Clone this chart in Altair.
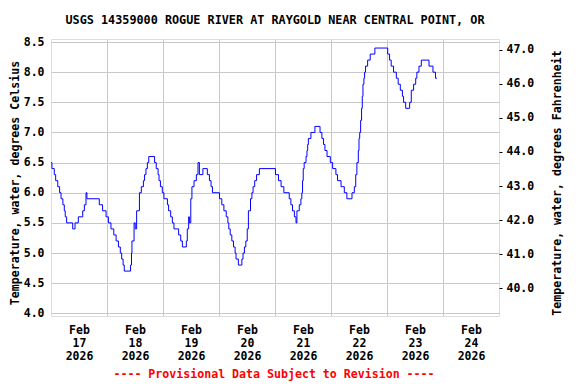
import altair as alt
import pandas as pd

# Water temperature (deg C), breakpoints: hours since 2026-02-17 00:00, value held until next point
hours = [0.0, 0.4, 1.4, 2.0, 2.9, 3.7, 4.3, 5.1, 5.7, 6.1, 6.7, 9.3, 10.3, 11.7, 13.6, 14.3, 15.0, 15.4,
         20.7, 22.1, 23.6, 24.6, 25.7, 26.9, 27.9, 28.9, 29.7, 30.3, 30.9, 31.4,
         34.1, 34.5, 34.7, 35.6, 36.1, 36.7, 37.9, 38.7, 39.6, 40.1, 40.7, 41.3, 41.9,
         44.4, 45.1, 45.9, 46.3, 46.9, 47.7, 48.4, 49.9, 50.4, 51.3, 52.0, 52.7, 54.7, 55.6, 56.3,
         58.0, 58.4, 59.0, 59.3, 59.9, 60.4, 61.3, 62.3, 63.0, 63.6, 65.1, 67.0,
         67.9, 68.6, 69.2, 72.2, 73.2, 74.1, 75.1, 75.8, 76.2, 76.8, 77.5, 78.2, 78.9, 79.3, 80.3,
         81.8, 82.3, 82.9, 83.5, 84.1, 84.6, 85.5, 86.1, 86.6, 87.3, 88.1, 89.3,
         96.2, 97.5, 98.6, 99.8, 102.1, 102.8, 103.5, 104.3, 105.0, 105.4, 106.4, 107.1, 107.5,
         107.8, 108.1, 108.5, 109.3, 109.7, 110.0, 110.3, 111.4, 113.1, 115.3, 116.1, 116.8, 117.4,
         118.3, 119.7, 120.7, 122.1, 122.8, 124.3, 125.7, 126.8, 129.0, 130.0,
         130.6, 131.1, 131.7, 132.0, 132.3, 132.7, 133.1, 133.4, 133.7, 134.1, 134.4, 134.8, 135.7,
         136.8, 138.8, 144.3, 145.1, 145.8, 146.8, 148.0, 148.8, 149.7, 150.6, 151.1, 152.0,
         153.7, 154.4, 155.4, 156.3, 156.8, 157.7, 158.7, 162.0, 163.7, 164.8, 165.4]
temps = [6.5, 6.4, 6.3, 6.2, 6.1, 6.0, 5.9, 5.8, 5.7, 5.6, 5.5, 5.4, 5.5, 5.6, 5.7, 5.8, 6.0, 5.9,
         5.8, 5.7, 5.6, 5.5, 5.4, 5.3, 5.2, 5.1, 5.0, 4.9, 4.8, 4.7,
         4.8, 5.0, 5.2, 5.5, 5.4, 5.7, 6.0, 6.1, 6.2, 6.3, 6.4, 6.5, 6.6,
         6.5, 6.4, 6.3, 6.2, 6.1, 6.0, 5.9, 5.8, 5.7, 5.6, 5.5, 5.4, 5.3, 5.2, 5.1,
         5.2, 5.4, 5.6, 5.5, 5.9, 6.1, 6.2, 6.3, 6.5, 6.3, 6.4, 6.3,
         6.2, 6.1, 6.0, 5.9, 5.8, 5.7, 5.6, 5.5, 5.4, 5.3, 5.2, 5.1, 5.0, 4.9, 4.8,
         4.9, 5.0, 5.1, 5.2, 5.4, 5.7, 5.9, 6.0, 6.1, 6.2, 6.3, 6.4,
         6.3, 6.2, 6.1, 6.0, 5.9, 5.8, 5.7, 5.6, 5.5, 5.7, 5.8, 5.9, 6.0,
         6.2, 6.4, 6.5, 6.6, 6.7, 6.8, 6.9, 7.0, 7.1, 7.0, 6.9, 6.8, 6.7,
         6.6, 6.5, 6.4, 6.3, 6.2, 6.1, 6.0, 5.9, 6.0, 6.1,
         6.3, 6.5, 6.7, 6.9, 7.0, 7.2, 7.4, 7.6, 7.8, 7.9, 8.0, 8.1, 8.2,
         8.3, 8.4, 8.3, 8.2, 8.1, 8.0, 7.9, 7.8, 7.7, 7.6, 7.5, 7.4,
         7.5, 7.7, 7.8, 7.9, 8.0, 8.1, 8.2, 8.1, 8.0, 7.9, 7.9]

c_ticks = [4.0, 4.5, 5.0, 5.5, 6.0, 6.5, 7.0, 7.5, 8.0, 8.5]
f_ticks = [40.0, 41.0, 42.0, 43.0, 44.0, 45.0, 46.0, 47.0]
day_bounds = [24, 48, 72, 96, 120, 144, 168]
day_noons = [12, 36, 60, 84, 108, 132, 156, 180]
month_label = "Feb"
year_label = "2026"
first_day = 17

title_text = "USGS 14359000 ROGUE RIVER AT RAYGOLD NEAR CENTRAL POINT, OR"
footer_text = "---- Provisional Data Subject to Revision ----"
c_title = "Temperature, water, degrees Celsius"
f_title = "Temperature, water, degrees Fahrenheit"

FONT = "DejaVu Sans Mono"
W, H = 448, 277

series = pd.DataFrame({"h": hours, "t": temps})
xscale = alt.Scale(domain=[0, 192], nice=False, zero=False)

line = alt.Chart(series).mark_line(
    color="#0000ff", strokeWidth=1, interpolate="step-after"
).encode(
    x=alt.X("h:Q", scale=xscale,
            axis=alt.Axis(orient="top", values=day_bounds, grid=True, labels=False,
                          ticks=False, domain=False, title=None,
                          gridColor="#c8c8c8", gridWidth=1)),
    y=alt.Y("t:Q", scale=alt.Scale(domain=[3.955, 8.55], nice=False, zero=False),
            axis=alt.Axis(orient="left", values=c_ticks, format=".1f", grid=True,
                          gridColor="#c8c8c8", gridWidth=1, ticks=False, domain=False,
                          labelPadding=7, labelFont=FONT, labelFontSize=11.5,
                          labelFontWeight="bold", labelColor="black",
                          title=c_title, titleFont=FONT, titleFontSize=11.6,
                          titleFontWeight="bold", titleColor="black",
                          titleAngle=270, titleX=-36, titleY=143.5,
                          titleAlign="center", titleBaseline="middle")),
)

xlabels = alt.Chart(pd.DataFrame({"n": day_noons})).mark_point(opacity=0).encode(
    x=alt.X("n:Q", scale=xscale,
            axis=alt.Axis(orient="bottom", values=day_noons, grid=False, ticks=False,
                          domain=False, title=None, labelFont=FONT, labelFontSize=11.5,
                          labelFontWeight="bold", labelColor="black", labelPadding=8,
                          labelLineHeight=13.3,
                          labelExpr="['" + month_label + "', '' + (" + str(first_day)
                          + " + floor(datum.value / 24)), '" + year_label + "']")),
)

fahr = alt.Chart(pd.DataFrame({"f": f_ticks})).mark_point(opacity=0).encode(
    y=alt.Y("f:Q", scale=alt.Scale(domain=[39.19, 47.31], nice=False, zero=False),
            axis=alt.Axis(orient="right", values=f_ticks, format=".1f", grid=False,
                          ticks=True, tickSize=3, tickColor="black", domain=False,
                          labelPadding=4, labelFont=FONT, labelFontSize=11.5,
                          labelFontWeight="bold", labelColor="black",
                          title=f_title, titleFont=FONT, titleFontSize=11.6,
                          titleFontWeight="bold", titleColor="black",
                          titleAngle=270, titleX=58, titleY=143.5,
                          titleAlign="center", titleBaseline="middle")),
)

title = alt.Chart(pd.DataFrame({"s": [title_text]})).mark_text(
    font=FONT, fontSize=11.8, fontWeight="bold", color="black",
    align="center", baseline="alphabetic"
).encode(
    text="s:N",
    x=alt.value(224),
    y=alt.value(-15),
)

footer = alt.Chart(pd.DataFrame({"s": [footer_text]})).mark_text(
    font=FONT, fontSize=11.6, fontWeight="bold", color="#ff0000",
    align="center", baseline="alphabetic"
).encode(
    text="s:N",
    x=alt.value(223),
    y=alt.value(339),
)

chart = alt.layer(line, xlabels, fahr, title, footer).resolve_scale(
    y="independent"
).resolve_axis(
    x="independent", y="independent"
).properties(
    width=W, height=H,
    padding={"left": 43, "top": 31, "right": 69, "bottom": 66},
    autosize=alt.AutoSizeParams(type="none"),
).configure_view(
    stroke="black", strokeWidth=1
).configure(background="white")

chart.save("out.html", embed_options={"renderer": "svg", "actions": False})
